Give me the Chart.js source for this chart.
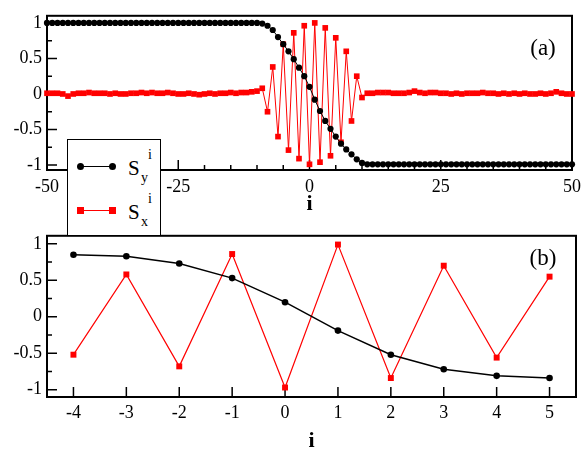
<!DOCTYPE html>
<html>

<head>
    <meta charset="utf-8" />
    <style>
        body { margin: 0; background: #fff; }
        #wrap { position: relative; width: 587px; height: 455px; font-family: "Liberation Serif", serif; color: #000; }
        #chartA { position: absolute; left: 0; top: 0; }
        #chartB { position: absolute; left: 0; top: 220px; }
        #key { position: absolute; left: 67px; top: 139px; width: 92px; height: 95px; border: 1px solid #000; background: #fff; z-index: 2; }
        #key div, #key span { position: absolute; }
        #key .ln { width: 32px; height: 1px; }
        #key .dot { width: 7px; height: 7px; border-radius: 50%; background: #000; }
        #key .sq { width: 7px; height: 7px; background: #f00; }
        #key .big { font-size: 21px; line-height: 20px; }
        #key .small { font-size: 14px; line-height: 14px; }
    </style>
</head>

<body>
    <div id="wrap">
        <canvas id="chartA" width="587" height="220"></canvas>
        <canvas id="chartB" width="587" height="235"></canvas>
        <div id="key">
            <div class="ln" style="left:13px;top:26px;background:#000"></div>
            <div class="dot" style="left:9px;top:23px"></div>
            <div class="dot" style="left:41px;top:23px"></div>
            <span class="big" style="left:60px;top:18px">S</span>
            <span class="small" style="left:73px;top:31px">y</span>
            <span class="small" style="left:80px;top:8px">i</span>

            <div class="ln" style="left:13px;top:70px;background:#f00"></div>
            <div class="sq" style="left:9px;top:67px"></div>
            <div class="sq" style="left:41px;top:67px"></div>
            <span class="big" style="left:60px;top:62px">S</span>
            <span class="small" style="left:73px;top:75px">x</span>
            <span class="small" style="left:80px;top:52px">i</span>
        </div>
    </div>

    <script src="https://cdn.jsdelivr.net/npm/chart.js@4.4.1/dist/chart.umd.min.js"></script>

    <script>
        // whole chain, sites -50 .. 50
        const sitesA = [
            -50, -49, -48, -47, -46, -45, -44, -43, -42, -41, -40, -39, -38, -37, -36, -35, -34,
            -33, -32, -31, -30, -29, -28, -27, -26, -25, -24, -23, -22, -21, -20, -19, -18, -17,
            -16, -15, -14, -13, -12, -11, -10, -9, -8, -7, -6, -5, -4, -3, -2, -1, 0,
            1, 2, 3, 4, 5, 6, 7, 8, 9, 10, 11, 12, 13, 14, 15, 16, 17,
            18, 19, 20, 21, 22, 23, 24, 25, 26, 27, 28, 29, 30, 31, 32, 33, 34,
            35, 36, 37, 38, 39, 40, 41, 42, 43, 44, 45, 46, 47, 48, 49, 50
        ];
        const syA = [
            1, 1, 1, 1, 1, 1, 1, 1, 1, 1, 1, 1, 1, 1, 1, 1, 1,
            1, 1, 1, 1, 1, 1, 1, 1, 1, 1, 1, 1, 1, 1, 1, 1, 1,
            1, 1, 1, 1, 1, 1, 1, 0.99, 0.96, 0.90, 0.80, 0.70, 0.60, 0.49, 0.37, 0.25, 0.10,
            -0.08, -0.24, -0.38, -0.49, -0.60, -0.70, -0.78, -0.85, -0.92, -0.97, -0.99, -0.99, -0.99, -0.99, -0.99, -0.99, -0.99,
            -0.99, -0.99, -0.99, -0.99, -0.99, -0.99, -0.99, -0.99, -0.99, -0.99, -0.99, -0.99, -0.99, -0.99, -0.99, -0.99, -0.99,
            -0.99, -0.99, -0.99, -0.99, -0.99, -0.99, -0.99, -0.99, -0.99, -0.99, -0.99, -0.99, -0.99, -0.99, -0.99, -0.99
        ];
        const sxA = [
            0.01, 0.01, 0.01, 0, -0.03, 0, 0.01, 0.01, 0.02, 0.01, 0.01, 0.01, 0, 0.01, 0, 0, 0.01,
            0.01, 0.02, 0.01, 0.02, 0.01, 0.01, 0.02, 0.01, 0, 0, 0.01, 0, -0.01, 0, 0.01, 0, 0.01,
            0.01, 0.02, 0.01, 0.02, 0.02, 0.03, 0.04, 0.08, -0.25, 0.38, -0.60, 0.70, -0.79, 0.86, -0.91, 0.96, -0.99,
            1.00, -0.96, 0.93, -0.87, 0.79, -0.68, 0.60, -0.38, 0.25, -0.05, 0.01, 0.01, 0.02, 0.02, 0.02, 0.01, 0.01,
            0.01, 0.02, 0.04, 0.02, 0.01, 0.02, 0.02, 0.01, 0.01, 0, 0.01, 0, 0.01, 0.01, 0.01, 0.02, 0.01,
            0.01, 0, 0.01, 0, 0.01, 0, 0.01, 0, 0, 0.01, 0, 0.01, 0.03, 0.01, 0, 0
        ];

        // close-up around the wall centre
        const sitesB = [-4, -3, -2, -1, 0, 1, 2, 3, 4, 5];
        const syB = [0.85, 0.83, 0.73, 0.53, 0.20, -0.19, -0.52, -0.72, -0.81, -0.84];
        const sxB = [-0.52, 0.58, -0.68, 0.86, -0.97, 0.99, -0.84, 0.70, -0.56, 0.55];

        const xTicksA = [-50, -25, 0, 25, 50];
        const xTicksB = [-4, -3, -2, -1, 0, 1, 2, 3, 4, 5];
        const yTicks = [-1, -0.5, 0, 0.5, 1];
        const yMinor = [-0.75, -0.25, 0.25, 0.75];

        const serif = '"Liberation Serif", "Times New Roman", serif';

        // box frame, inward tick marks and the panel tag
        const frame = {
            id: 'frame',
            beforeDatasetsDraw(chart, args, o) {
                const { ctx, chartArea: a, scales: { x, y } } = chart;
                ctx.save();
                ctx.strokeStyle = '#000';
                ctx.lineWidth = 1.5;
                ctx.beginPath();
                yTicks.forEach(v => {
                    const py = y.getPixelForValue(v);
                    ctx.moveTo(a.left, py); ctx.lineTo(a.left + 10, py);
                });
                yMinor.forEach(v => {
                    const py = y.getPixelForValue(v);
                    ctx.moveTo(a.left, py); ctx.lineTo(a.left + 5, py);
                });
                o.xMajor.forEach(v => {
                    const px = x.getPixelForValue(v);
                    ctx.moveTo(px, a.bottom); ctx.lineTo(px, a.bottom - 10);
                });
                if (o.xMinorStep) {
                    for (let v = x.min + o.xMinorStep; v < x.max; v += o.xMinorStep) {
                        if (o.xMajor.includes(v)) continue;
                        const px = x.getPixelForValue(v);
                        ctx.moveTo(px, a.bottom); ctx.lineTo(px, a.bottom - 5);
                    }
                }
                ctx.stroke();
                ctx.lineWidth = 2;
                ctx.strokeRect(a.left, a.top, a.right - a.left, a.bottom - a.top);
                ctx.restore();
            },
            afterDraw(chart, args, o) {
                const ctx = chart.ctx;
                ctx.save();
                ctx.fillStyle = '#000';
                ctx.font = '23px ' + serif;
                ctx.textAlign = 'center';
                ctx.textBaseline = 'middle';
                ctx.fillText(o.tag, o.tagX, o.tagY);
                ctx.restore();
            }
        };

        function panel(id, o) {
            return new Chart(document.getElementById(id), {
                type: 'line',
                data: {
                    datasets: [{
                        label: 'Sy',
                        data: o.sites.map((s, k) => ({ x: s, y: o.sy[k] })),
                        borderColor: '#000',
                        borderWidth: o.blackWidth,
                        pointStyle: 'circle',
                        pointRadius: o.dot,
                        pointBackgroundColor: '#000',
                        pointBorderWidth: 0,
                        tension: 0,
                        clip: false
                    }, {
                        label: 'Sx',
                        data: o.sites.map((s, k) => ({ x: s, y: o.sx[k] })),
                        borderColor: '#f00',
                        borderWidth: o.redWidth,
                        pointStyle: 'rect',
                        pointRadius: o.sq,
                        pointBackgroundColor: '#f00',
                        pointBorderWidth: 0,
                        tension: 0,
                        clip: false
                    }]
                },
                options: {
                    responsive: false,
                    animation: false,
                    events: [],
                    layout: { padding: { top: o.padTop, right: 11, left: 0, bottom: 0 } },
                    plugins: {
                        legend: { display: false },
                        tooltip: { enabled: false },
                        frame: { xMajor: o.xTicks, xMinorStep: o.xMinorStep, tag: o.tag, tagX: 543, tagY: o.tagY }
                    },
                    scales: {
                        x: {
                            type: 'linear',
                            min: o.xMin,
                            max: o.xMax,
                            grid: { display: false, drawTicks: false },
                            border: { display: false },
                            afterBuildTicks: s => { s.ticks = o.xTicks.map(v => ({ value: v })); },
                            afterFit: s => { s.height = o.xHeight; },
                            ticks: {
                                autoSkip: false, maxRotation: 0, padding: o.xPad, color: '#000',
                                font: { family: serif, size: 18 },
                                callback: v => String(v)
                            },
                            title: {
                                display: true, text: 'i', color: '#000',
                                font: { family: serif, size: 22, weight: 'bold' },
                                padding: { top: 0, bottom: o.titlePad }
                            }
                        },
                        y: {
                            min: o.yMin,
                            max: o.yMax,
                            grid: { display: false, drawTicks: false },
                            border: { display: false },
                            afterBuildTicks: s => { s.ticks = yTicks.map(v => ({ value: v })); },
                            afterFit: s => { s.width = 47; },
                            ticks: {
                                padding: 5, color: '#000',
                                font: { family: serif, size: 18 },
                                callback: v => String(v)
                            }
                        }
                    }
                },
                plugins: [frame]
            });
        }

        panel('chartA', {
            sites: sitesA, sy: syA, sx: sxA,
            xMin: -50, xMax: 50, yMin: -1.07, yMax: 1.1,
            xTicks: xTicksA, xMinorStep: 5,
            padTop: 5, xHeight: 50, xPad: 6, titlePad: 2,
            blackWidth: 1, redWidth: 1, dot: 3.1, sq: 4,
            tag: '(a)', tagY: 49
        });

        panel('chartB', {
            sites: sitesB, sy: syB, sx: sxB,
            xMin: -4.5, xMax: 5.5, yMin: -1.1, yMax: 1.11,
            xTicks: xTicksB, xMinorStep: 0,
            padTop: 10, xHeight: 58, xPad: 5, titlePad: 0,
            blackWidth: 1.5, redWidth: 1.2, dot: 3.3, sq: 4.2,
            tag: '(b)', tagY: 39
        });
    </script>
</body>

</html>
